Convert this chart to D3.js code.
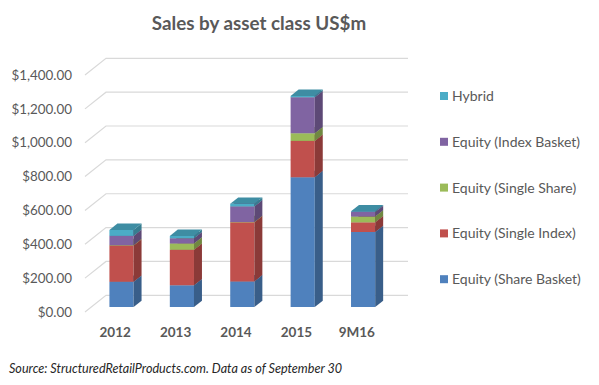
<!DOCTYPE html>
<html>
<head>
<meta charset="utf-8">
<script src="https://cdn.jsdelivr.net/npm/d3@7"></script>
<style>
	body { margin: 0; background: #fff; }
	svg { display: block; font-family: Lato, 'Open Sans', sans-serif; }
</style>
</head>
<body>
<div data-chart></div>
<script>
const categories = ['2012', '2013', '2014', '2015', '9M16']
const seriesNames = ['Equity (Share Basket)', 'Equity (Single Index)', 'Equity (Single Share)', 'Equity (Index Basket)', 'Hybrid']
const shareBasket = [149, 128, 151, 767, 443]
const singleIndex = [214, 210, 349, 214, 57]
const singleShare = [2, 37, 2, 45, 34]
const indexBasket = [55, 31, 92, 213, 27]
const hybrid = [35, 14, 16, 8, 4]
const colors = ['#4f81bd', '#c0504d', '#9bbb59', '#8064a2', '#4bacc6']
const yTicks = [0, 200, 400, 600, 800, 1000, 1200, 1400]

const dimensions = {
	width: 599,
	height: 385,
	left: 85,
	right: 387,
	top: 75,
	bottom: 312,
	depthX: 21,
	depthY: -16.7
}

const seriesValues = [shareBasket, singleIndex, singleShare, indexBasket, hybrid]
const rows = categories.map((c, i) => {
	const row = { category: c }
	seriesNames.forEach((s, j) => { row[s] = seriesValues[j][i] })
	return row
})
const stacked = d3.stack().keys(seriesNames)(rows)

const svg = d3.select('[data-chart]')
	.append('svg')
	.attr('width', dimensions.width)
	.attr('height', dimensions.height)

const xScale = d3.scaleBand()
	.domain(categories)
	.range([dimensions.left, dimensions.right])
	.paddingInner(0.6)
	.paddingOuter(0.3)

const yScale = d3.scaleLinear()
	.domain([0, 1400])
	.range([dimensions.bottom, dimensions.top])

const dx = dimensions.depthX
const dy = dimensions.depthY

/* Gridlines on the back wall and side */
const grid = svg.append('g')
grid.selectAll('path')
	.data(yTicks)
	.join('path')
	.attr('d', (d) => {
		const y = yScale(d)
		return `M${dimensions.left},${y} L${dimensions.left + dx},${y + dy} L${dimensions.right + dx},${y + dy}`
	})
	.attr('fill', 'none')
	.attr('stroke', '#d9d9d9')
	.attr('stroke-width', 1.2)

/* Y axis labels */
svg.append('g')
	.selectAll('text')
	.data(yTicks)
	.join('text')
	.attr('x', 72)
	.attr('y', (d) => yScale(d))
	.attr('dy', '0.35em')
	.attr('text-anchor', 'end')
	.attr('font-size', 13.4)
	.attr('fill', '#595959')
	.text((d) => '$' + d3.format(',.2f')(d))

/* Bars */
const t0 = 0.3
const t1 = 0.68
const bars = svg.append('g')
categories.forEach((c) => {
	stacked.forEach((layer, j) => {
		const d = layer.find((e) => e.data.category === c)
		if (d[1] - d[0] <= 0) return
		const base = d3.color(colors[j])
		const x0 = xScale(c) + t0 * dx
		const x1 = x0 + xScale.bandwidth()
		const yb = yScale(d[0]) + t0 * dy
		const yt = yScale(d[1]) + t0 * dy
		const ox = (t1 - t0) * dx
		const oy = (t1 - t0) * dy
		const g = bars.append('g')
		g.append('path')
			.attr('d', `M${x0},${yb} L${x1},${yb} L${x1},${yt} L${x0},${yt} Z`)
			.attr('fill', base.formatHex())
		g.append('path')
			.attr('d', `M${x1},${yb} L${x1 + ox},${yb + oy} L${x1 + ox},${yt + oy} L${x1},${yt} Z`)
			.attr('fill', base.darker(0.9).formatHex())
		g.append('path')
			.attr('d', `M${x0},${yt} L${x1},${yt} L${x1 + ox},${yt + oy} L${x0 + ox},${yt + oy} Z`)
			.attr('fill', base.darker(0.55).formatHex())
	})
})

/* X axis labels */
svg.append('g')
	.selectAll('text')
	.data(categories)
	.join('text')
	.attr('x', (d) => xScale(d) + xScale.bandwidth() / 2)
	.attr('y', 337)
	.attr('text-anchor', 'middle')
	.attr('font-size', 13.5)
	.attr('font-weight', 'bold')
	.attr('fill', '#595959')
	.text((d) => d)

/* Title */
svg.append('text')
	.attr('x', 259)
	.attr('y', 30)
	.attr('text-anchor', 'middle')
	.attr('font-size', 18.8)
	.attr('font-weight', 'bold')
	.attr('fill', '#595959')
	.text('Sales by asset class US$m')

/* Legend */
const legend = svg.append('g')
const legendItems = seriesNames.slice().reverse()
legend.selectAll('rect')
	.data(legendItems)
	.join('rect')
	.attr('x', 440)
	.attr('y', (d, i) => 92 + i * 45.8)
	.attr('width', 8)
	.attr('height', 8)
	.attr('fill', (d) => colors[seriesNames.indexOf(d)])
legend.selectAll('text')
	.data(legendItems)
	.join('text')
	.attr('x', 452)
	.attr('y', (d, i) => 96 + i * 45.8)
	.attr('dy', '0.35em')
	.attr('font-size', 14)
	.attr('fill', '#595959')
	.text((d) => d)

/* Source */
svg.append('text')
	.attr('x', 9)
	.attr('y', 373)
	.attr('font-size', 12.6)
	.attr('font-style', 'italic')
	.attr('fill', '#262626')
	.text('Source: StructuredRetailProducts.com. Data as of September 30')
</script>
</body>
</html>
